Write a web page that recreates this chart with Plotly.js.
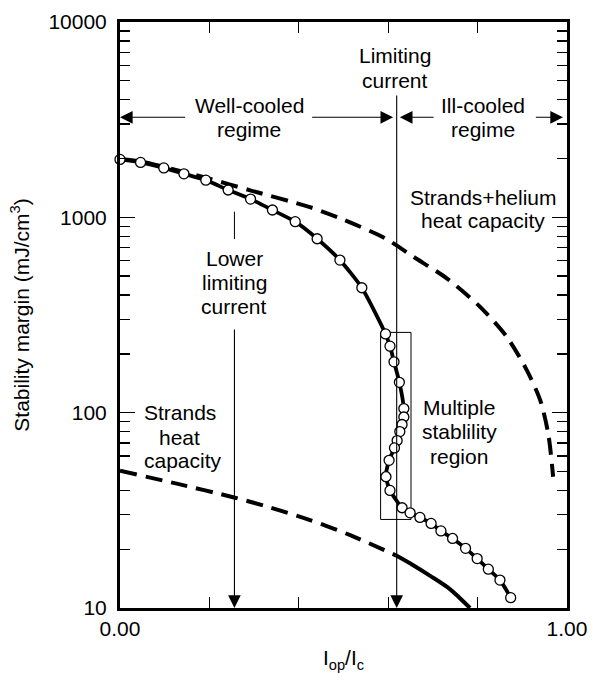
<!DOCTYPE html>
<html>
<head>
<meta charset="utf-8">
<script src="https://cdn.plot.ly/plotly-3.0.1.min.js"></script>
<style>html,body{margin:0;padding:0;background:#fff;}#chart{width:593px;height:673px;}</style>
</head>
<body>
<div id="chart"></div>
<script>
// Measured curve with open circles
const mainX = [0, 0.046, 0.098, 0.143, 0.192, 0.242, 0.292, 0.341, 0.392, 0.441, 0.492, 0.541, 0.594, 0.604, 0.613, 0.625, 0.635, 0.635, 0.631, 0.626, 0.620, 0.614, 0.602, 0.595, 0.604, 0.631, 0.649, 0.671, 0.696, 0.718, 0.744, 0.773, 0.799, 0.824, 0.850, 0.874];
const mainY = [1980, 1910, 1790, 1670, 1550, 1380, 1240, 1090, 950, 777, 604, 436, 253, 219, 182, 143, 105, 95, 87, 80, 72, 66, 57, 47, 40, 32.6, 30.7, 29.1, 27.1, 24.8, 22.7, 20.2, 17.9, 15.8, 13.9, 11.3];
// Strands + helium heat capacity (dashed)
const heX = [0, 0.05, 0.1, 0.192, 0.291, 0.425, 0.5, 0.593, 0.656, 0.731, 0.805, 0.865, 0.910, 0.940, 0.958, 0.969];
const heY = [1990, 1925, 1810, 1595, 1375, 1127, 973, 781, 629, 487, 349, 245, 165, 116, 78, 47];
// Strands heat capacity: dashed part and solid part
const stDashX = [0, 0.127, 0.255, 0.336, 0.425, 0.515, 0.617];
const stDashY = [50.4, 43.3, 36.8, 32.7, 28.2, 23.6, 18.6];
const stSolidX = [0.617, 0.655, 0.694, 0.738, 0.783];
const stSolidY = [18.6, 16.6, 14.6, 12.5, 10];
// Multiple stability region box
const boxX = [0.583, 0.651, 0.651, 0.583, 0.583];
const boxY = [257.6, 257.6, 28.4, 28.4, 257.6];
// Lower limiting current upper stub
const lowStubX = [0.256, 0.256];
const lowStubY = [1069, 774];
// Current markers
const limitingX = 0.619, limitingTop = 4276;
const lowerX = 0.256, lowerTop = 271;
const regimeY = 3251;
// Tick labels
const xTickVals = [0, 0.2, 0.4, 0.6, 0.8, 1];
const xTickText = ["0.00", "", "", "", "", "1.00"];
const yTickVals = [10, 100, 1000, 10000];
const yTickText = ["10", "100", "1000", "10000"];
const yMinor = [];
[10, 100, 1000].forEach(d => { for (let k = 2; k <= 9; k++) yMinor.push(k * d); });

const FONT = "Liberation Sans, Arial, Helvetica, sans-serif";
const L = Math.log10;

const traces = [
  {x: heX, y: heY, mode: 'lines', line: {color: '#000', width: 4, dash: '17px,9px', shape: 'spline', smoothing: 0.8}, hoverinfo: 'skip'},
  {x: stDashX, y: stDashY, mode: 'lines', line: {color: '#000', width: 4, dash: '17px,9px', shape: 'spline', smoothing: 0.8}, hoverinfo: 'skip'},
  {x: stSolidX, y: stSolidY, mode: 'lines', line: {color: '#000', width: 4, shape: 'spline', smoothing: 0.8}, hoverinfo: 'skip'},
  {x: boxX, y: boxY, mode: 'lines', line: {color: '#000', width: 1}, hoverinfo: 'skip'},
  {x: lowStubX, y: lowStubY, mode: 'lines', line: {color: '#000', width: 1}, hoverinfo: 'skip'},
  {x: mainX, y: mainY, mode: 'lines+markers', line: {color: '#000', width: 3.8, shape: 'spline', smoothing: 0.6},
   marker: {size: 10, color: '#fff', line: {color: '#000', width: 1.3}}, cliponaxis: false, hoverinfo: 'skip'}
];

function arrow(x, y, ax, ay) {
  return {x: x, y: L(y), ax: ax, ay: L(ay), xref: 'x', yref: 'y', axref: 'x', ayref: 'y',
    text: '', showarrow: true, arrowhead: 2, arrowsize: 2.3, arrowwidth: 1.1, arrowcolor: '#000', standoff: 0, startstandoff: 0};
}
function label(text, px, py, size) {
  return {text: text, x: (px - 120) / 447, y: (608 - py) / 586, xref: 'paper', yref: 'paper',
    xanchor: 'center', yanchor: 'middle', showarrow: false, font: {family: FONT, size: size || 21, color: '#000'}};
}

const annotations = [
  arrow(limitingX, 10, limitingX, limitingTop),
  arrow(lowerX, 10, lowerX, lowerTop),
  arrow(0, regimeY, 0.149, regimeY),
  arrow(0.611, regimeY, 0.4266, regimeY),
  arrow(0.626, regimeY, 0.705, regimeY),
  arrow(0.991, regimeY, 0.927, regimeY),
  label('Limiting', 395, 56),
  label('current', 395, 80),
  label('Well-cooled', 249, 105),
  label('regime', 249, 129),
  label('Ill-cooled', 483, 105),
  label('regime', 483, 129),
  label('Strands+helium', 483, 197),
  label('heat capacity', 483, 220),
  label('Lower', 234, 258),
  label('limiting', 234, 282),
  label('current', 234, 306),
  label('Strands', 180, 412),
  label('heat', 179, 437),
  label('capacity', 183, 461),
  label('Multiple', 459, 407),
  label('stablility', 459, 431),
  label('region', 459, 456)
];

const layout = {
  width: 593, height: 673,
  margin: {l: 120, r: 26, t: 22, b: 65},
  paper_bgcolor: '#fff', plot_bgcolor: '#fff',
  showlegend: false,
  font: {family: FONT, color: '#000', size: 21},
  xaxis: {
    range: [0, 1], showgrid: false, zeroline: false,
    showline: true, linecolor: '#000', linewidth: 3, mirror: 'ticks',
    tickmode: 'array', tickvals: xTickVals, ticktext: xTickText,
    ticks: 'inside', ticklen: 11, tickwidth: 1.3, tickcolor: '#000',
    tickfont: {family: FONT, size: 21},
    title: {text: 'I<sub>op</sub>/I<sub>c</sub>', font: {family: FONT, size: 21}, standoff: 12}
  },
  yaxis: {
    type: 'log', range: [1, 4], showgrid: false, zeroline: false,
    showline: true, linecolor: '#000', linewidth: 3, mirror: 'ticks',
    tickmode: 'array', tickvals: yTickVals, ticktext: yTickText,
    ticks: 'inside', ticklen: 15, tickwidth: 1.3, tickcolor: '#000',
    tickfont: {family: FONT, size: 21}, ticklabelstandoff: 6,
    minor: {tickmode: 'array', tickvals: yMinor, ticks: 'inside', ticklen: 10, tickwidth: 1.3, tickcolor: '#000', showgrid: false},
    title: {text: 'Stability margin (mJ/cm<sup>3</sup>)', font: {family: FONT, size: 21}, standoff: 14}
  },
  annotations: annotations
};

Plotly.newPlot('chart', traces, layout, {displayModeBar: false, staticPlot: true});
</script>
</body>
</html>
